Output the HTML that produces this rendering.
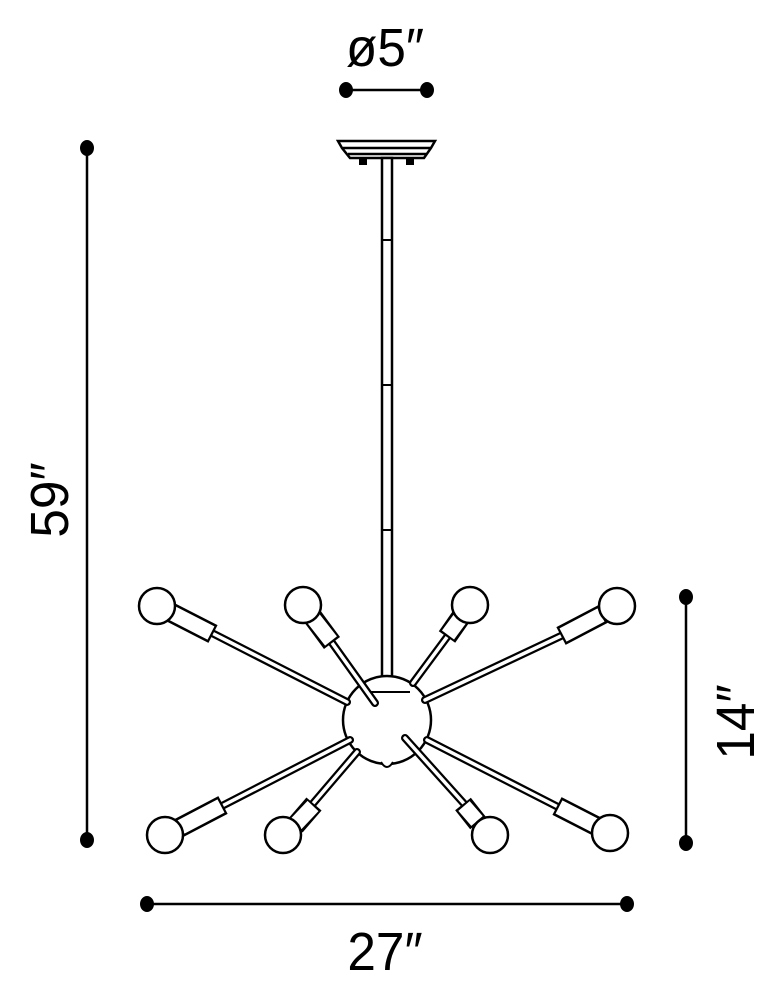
<!DOCTYPE html>
<html><head><style>
html,body{margin:0;padding:0;background:#fff;}
svg{display:block;}
text{font-family:"Liberation Sans",sans-serif;fill:#000;}
</style></head><body>
<svg width="772" height="990" viewBox="0 0 772 990" xmlns="http://www.w3.org/2000/svg">
<g stroke="#000" stroke-width="2.5">
<line x1="346" y1="90" x2="427" y2="90"/>
<line x1="87" y1="148" x2="87" y2="840"/>
<line x1="686" y1="597" x2="686" y2="843"/>
<line x1="147" y1="904" x2="627" y2="904"/>
</g>
<g fill="#000">
<ellipse cx="346" cy="90" rx="7" ry="8"/><ellipse cx="427" cy="90" rx="7" ry="8"/>
<ellipse cx="87" cy="148" rx="7" ry="8"/><ellipse cx="87" cy="840" rx="7" ry="8"/>
<ellipse cx="686" cy="597" rx="7" ry="8"/><ellipse cx="686" cy="843" rx="7" ry="8"/>
<ellipse cx="147" cy="904" rx="7" ry="8"/><ellipse cx="627" cy="904" rx="7" ry="8"/>
</g>
<text font-size="54" text-anchor="middle" transform="translate(385 66) scale(0.95 1)">ø5″</text>
<text font-size="54" text-anchor="middle" transform="translate(385 970) scale(0.95 1)">27″</text>
<text font-size="54" text-anchor="middle" transform="translate(68 500) rotate(-90) scale(0.95 1)">59″</text>
<text font-size="54" text-anchor="middle" transform="translate(754 722) rotate(-90) scale(0.95 1)">14″</text>

<g stroke="#000" stroke-width="2.5" fill="#fff">
<path d="M338 141 L435 141 L431 148 L424 158 L350 158 L342 148 Z"/>
<line x1="343" y1="148" x2="431" y2="148"/>
<line x1="348" y1="154" x2="426" y2="154"/>
</g>
<rect x="359" y="158" width="8" height="7" fill="#000"/>
<rect x="406" y="158" width="8" height="7" fill="#000"/>
<rect x="382" y="158" width="10" height="522" fill="#fff" stroke="#000" stroke-width="2.5"/>
<g stroke="#000" stroke-width="2"><line x1="382" y1="240" x2="392" y2="240"/><line x1="382" y1="385" x2="392" y2="385"/><line x1="382" y1="530" x2="392" y2="530"/></g>

<circle cx="387" cy="720" r="44" fill="#fff" stroke="#000" stroke-width="2.5"/>
<line x1="364" y1="692" x2="410" y2="692" stroke="#000" stroke-width="2"/>
<path d="M381 762 Q387 772 393 762" fill="#fff" stroke="#000" stroke-width="2"/>

<g stroke-linecap="round">
<g stroke="#000" stroke-width="8">
<line x1="212" y1="633" x2="347" y2="702"/>
<line x1="330" y1="640" x2="375" y2="703"/>
<line x1="450" y1="633" x2="413" y2="683"/>
<line x1="563" y1="635" x2="425" y2="700"/>
<line x1="220" y1="807" x2="350" y2="740"/>
<line x1="310" y1="807" x2="357" y2="752"/>
<line x1="467" y1="807" x2="405" y2="738"/>
<line x1="560" y1="808" x2="427" y2="740"/>
</g>
<g stroke="#fff" stroke-width="3.5">
<line x1="212" y1="633" x2="347" y2="702"/>
<line x1="330" y1="640" x2="375" y2="703"/>
<line x1="450" y1="633" x2="413" y2="683"/>
<line x1="563" y1="635" x2="425" y2="700"/>
<line x1="220" y1="807" x2="350" y2="740"/>
<line x1="310" y1="807" x2="357" y2="752"/>
<line x1="467" y1="807" x2="405" y2="738"/>
<line x1="560" y1="808" x2="427" y2="740"/>
</g>
</g>
<g stroke-linecap="butt">
<g stroke="#000" stroke-width="20">
<line x1="170" y1="612" x2="213" y2="634"/>
<line x1="312" y1="616" x2="332" y2="643"/>
<line x1="463" y1="614" x2="447" y2="637"/>
<line x1="603" y1="614" x2="561" y2="636"/>
<line x1="179" y1="828" x2="223" y2="805"/>
<line x1="295" y1="826" x2="314" y2="804"/>
<line x1="478" y1="823" x2="463" y2="804"/>
<line x1="598" y1="827" x2="557" y2="806"/>
</g>
<g stroke="#fff" stroke-width="15">
<line x1="172" y1="613" x2="211" y2="633"/>
<line x1="313" y1="618" x2="331" y2="641"/>
<line x1="462" y1="616" x2="448" y2="635"/>
<line x1="601" y1="615" x2="563" y2="635"/>
<line x1="181" y1="827" x2="221" y2="806"/>
<line x1="296" y1="824" x2="313" y2="806"/>
<line x1="477" y1="821" x2="464" y2="806"/>
<line x1="596" y1="826" x2="559" y2="807"/>
</g>
</g>
<g fill="#fff" stroke="#000" stroke-width="2.5">
<circle cx="157" cy="606" r="18"/>
<circle cx="303" cy="605" r="18"/>
<circle cx="470" cy="605" r="18"/>
<circle cx="617" cy="606" r="18"/>
<circle cx="165" cy="835" r="18"/>
<circle cx="283" cy="835" r="18"/>
<circle cx="490" cy="835" r="18"/>
<circle cx="610" cy="833" r="18"/>
</g>
</svg>
</body></html>
